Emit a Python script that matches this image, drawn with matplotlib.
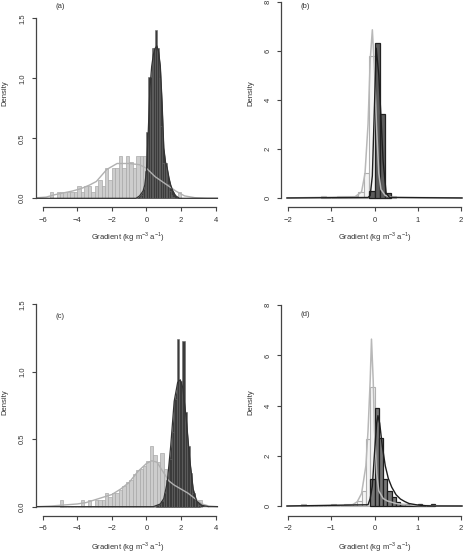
## four panel histogram + density plot (R style)
import numpy as np
import matplotlib
matplotlib.use('Agg')
from matplotlib import pyplot as plt

plt.rcParams['font.family'] = ['Liberation Sans', 'DejaVu Sans']
plt.rcParams['mathtext.fontset'] = 'custom'
plt.rcParams['mathtext.rm'] = 'Liberation Sans'

# ---- panel (a) ----
gray_a_start, gray_a_w = -5.6, 0.2
gray_a_h = [0.05, 0.0, 0.05, 0.05, 0.05, 0.05, 0.05, 0.05, 0.10, 0.05,
            0.10, 0.10, 0.05, 0.10, 0.15, 0.10, 0.25, 0.15, 0.25, 0.25,
            0.35, 0.25, 0.35, 0.30, 0.25, 0.35, 0.35, 0.35, 0.30, 0.20,
            0.15, 0.10, 0.10, 0.10, 0.05, 0.05, 0.0, 0.05]
dark_a_start, dark_a_w = -0.4, 0.1
dark_a_h = [0.01, 0.03, 0.08, 0.23, 0.55, 1.01, 1.01, 1.25, 1.25, 1.40,
            1.25, 1.0, 0.6, 0.29, 0.29, 0.29, 0.12, 0.06, 0.03, 0.01]
gray_a_dx = [-6.3, -5.8, -5.3, -4.8, -4.3, -3.8, -3.3, -2.9, -2.3, -1.7,
             -1.0, -0.4, 0.0, 0.5, 1.1, 1.7, 2.2, 2.8, 3.5, 4.1]
gray_a_dy = [0.005, 0.01, 0.03, 0.045, 0.06, 0.08, 0.11, 0.14, 0.24, 0.29,
             0.29, 0.28, 0.25, 0.18, 0.12, 0.06, 0.02, 0.005, 0.0, 0.0]
dark_a_dx = [-6.3, -0.6, -0.4, -0.2, -0.1, 0.0, 0.1, 0.2, 0.3, 0.4, 0.5,
             0.6, 0.7, 0.8, 0.9, 1.0, 1.1, 1.2, 1.3, 1.4, 1.5, 1.6, 1.7,
             1.9, 4.1]
dark_a_dy = [0.0, 0.0, 0.02, 0.06, 0.11, 0.23, 0.55, 0.92, 1.1, 1.2, 1.25,
             1.27, 1.22, 1.1, 0.8, 0.42, 0.3, 0.25, 0.17, 0.11, 0.07, 0.04,
             0.02, 0.0, 0.0]

# ---- panel (b) ----
gray_b_start, gray_b_w = -1.25, 0.125
gray_b_h = [0.08, 0.0, 0.0, 0.08, 0.08, 0.08, 0.08, 0.25, 1.0, 5.8, 2.5,
            0.3, 0.08, 0.08]
dark_b_start, dark_b_w = -0.125, 0.125
dark_b_h = [0.3, 6.33, 3.42, 0.2]
gray_b_dx = [-2.03, -0.45, -0.3, -0.22, -0.15, -0.1, -0.05, 0.0, 0.05, 0.1,
             0.15, 0.25, 0.4, 2.03]
gray_b_dy = [0.0, 0.05, 0.25, 1.0, 3.0, 5.6, 6.85, 5.2, 2.8, 1.0, 0.35,
             0.1, 0.03, 0.0]
dark_b_dx = [-2.03, -0.15, -0.1, -0.05, 0.0, 0.04, 0.1, 0.15, 0.2, 0.27,
             0.35, 2.03]
dark_b_dy = [0.0, 0.02, 0.1, 0.9, 3.8, 6.1, 5.0, 3.3, 1.5, 0.2, 0.02, 0.0]

# ---- panel (c) ----
gray_c_start, gray_c_w = -5.0, 0.2
gray_c_h = [0.05, 0.0, 0.0, 0.0, 0.0, 0.0, 0.05, 0.0, 0.05, 0.0, 0.05, 0.05,
            0.05, 0.10, 0.07, 0.10, 0.10, 0.12, 0.15, 0.18, 0.20, 0.24, 0.27,
            0.28, 0.30, 0.34, 0.45, 0.38, 0.33, 0.40, 0.28, 0.20, 0.15, 0.12,
            0.10, 0.10, 0.08, 0.07, 0.05, 0.03, 0.05]
dark_c_start, dark_c_w = 0.55, 0.15
dark_c_h = [0.01, 0.02, 0.04, 0.10, 0.20, 0.35, 0.55, 0.80, 1.24, 0.93,
            1.23, 0.70, 0.45, 0.25, 0.10, 0.04, 0.01]
gray_c_dx = [-6.3, -5.5, -5.0, -4.5, -4.0, -3.5, -3.0, -2.5, -2.0, -1.5,
             -1.0, -0.5, 0.0, 0.3, 0.6, 1.0, 1.3, 1.6, 2.0, 2.4, 2.8, 3.2,
             3.6, 4.1]
gray_c_dy = [0.0, 0.005, 0.01, 0.015, 0.02, 0.03, 0.05, 0.07, 0.09, 0.13,
             0.18, 0.26, 0.32, 0.34, 0.33, 0.25, 0.19, 0.16, 0.13, 0.10,
             0.06, 0.02, 0.005, 0.0]
dark_c_dx = [-6.3, 0.4, 0.8, 1.0, 1.2, 1.4, 1.6, 1.8, 1.95, 2.1, 2.3, 2.5,
             2.7, 2.9, 3.2, 3.6, 4.1]
dark_c_dy = [0.0, 0.0, 0.02, 0.06, 0.18, 0.45, 0.78, 0.92, 0.94, 0.88, 0.65,
             0.35, 0.13, 0.04, 0.01, 0.0, 0.0]

# ---- panel (d) ----
gray_d_start, gray_d_w = -1.7, 0.1
gray_d_h = [0.07, 0.0, 0.0, 0.0, 0.0, 0.0, 0.0, 0.07, 0.0, 0.0, 0.07, 0.07,
            0.07, 0.2, 0.6, 2.66, 4.75, 1.5, 0.3, 0.2, 0.1, 0.07, 0.07]
dark_d_start, dark_d_w = -0.1, 0.1
dark_d_h = [1.06, 3.92, 2.72, 1.06, 0.6, 0.35, 0.15, 0.1, 0.07, 0.05, 0.03,
            0.07, 0.0, 0.0, 0.07]
gray_d_dx = [-2.03, -0.6, -0.5, -0.4, -0.3, -0.2, -0.15, -0.1, -0.07, -0.03,
             0.0, 0.05, 0.1, 0.2, 0.3, 0.5, 0.7, 1.0, 2.03]
gray_d_dy = [0.0, 0.02, 0.06, 0.17, 0.5, 1.6, 3.0, 5.0, 6.65, 5.0, 3.0, 1.3,
             0.6, 0.3, 0.2, 0.1, 0.05, 0.02, 0.0]
dark_d_dx = [-2.03, -0.15, -0.1, -0.05, 0.0, 0.05, 0.08, 0.12, 0.18, 0.25,
             0.32, 0.4, 0.5, 0.6, 0.7, 0.8, 1.0, 1.2, 1.4, 2.03]
dark_d_dy = [0.0, 0.05, 0.3, 0.8, 2.1, 3.3, 3.6, 3.3, 2.4, 1.6, 1.1, 0.75,
             0.45, 0.28, 0.18, 0.1, 0.04, 0.01, 0.0, 0.0]

W, H = 465.0, 555.0
fig = plt.figure(figsize=(4.65, 5.55), dpi=100)


def make_axes(left_px, right_px, top_px, bottom_px, xlim, ylim):
    ax = fig.add_axes([left_px / W, 1 - bottom_px / H,
                       (right_px - left_px) / W, (bottom_px - top_px) / H])
    ax.set_xlim(xlim)
    ax.set_ylim(ylim)
    ax.patch.set_alpha(0)
    return ax


def style(ax, xticks, yticks, ylabels):
    for s in ['top', 'right']:
        ax.spines[s].set_visible(False)
    for s in ['left', 'bottom']:
        ax.spines[s].set_color('#444444')
        ax.spines[s].set_linewidth(0.9)
    ax.spines['bottom'].set_bounds(xticks[0], xticks[-1])
    ax.spines['left'].set_bounds(yticks[0], yticks[-1])
    ax.set_xticks(xticks)
    ax.set_xticklabels([str(t).replace('-', '\u2212') for t in xticks])
    ax.set_yticks(yticks)
    ax.set_yticklabels(ylabels, rotation=90, va='center')
    ax.tick_params(length=3, width=0.8, color='#444444', labelsize=5.5,
                   labelcolor='#333333', pad=4)


def bars(ax, start, w, h, fc, ec, lw):
    left = start + w * np.arange(len(h))
    ax.bar(left, h, width=w, align='edge', color=fc, edgecolor=ec,
           linewidth=lw)


# (a)
ax = make_axes(35.8, 222.6, 11.1, 207.3, (-6.4, 4.4), (-0.075, 1.56))
bars(ax, gray_a_start, gray_a_w, gray_a_h, '#cdcdcd', '#a9a9a9', 0.5)
ax.fill_between(dark_a_dx, dark_a_dy, color='#3b3b3b', lw=0)
bars(ax, dark_a_start, dark_a_w, dark_a_h, '#3b3b3b', '#6a6a6a', 0.4)
ax.plot(gray_a_dx, gray_a_dy, color='#b0b0b0', lw=1.0)
ax.plot(dark_a_dx, dark_a_dy, color='#333333', lw=0.9)
style(ax, [-6, -4, -2, 0, 2, 4], [0, 0.5, 1.0, 1.5],
      ['0.0', '0.5', '1.0', '1.5'])

# (b)
ax = make_axes(281.4, 467.6, -6.3, 207.3, (-2.16, 2.16), (-0.38, 8.32))
bars(ax, gray_b_start, gray_b_w, gray_b_h, '#f4f4f4', '#b0b0b0', 0.8)
bars(ax, dark_b_start, dark_b_w, dark_b_h, '#5c5c5c', '#222222', 0.9)
ax.plot(gray_b_dx, gray_b_dy, color='#b8b8b8', lw=1.1)
ax.plot(dark_b_dx, dark_b_dy, color='#1e1e1e', lw=1.0)
style(ax, [-2, -1, 0, 1, 2], [0, 2, 4, 6, 8], ['0', '2', '4', '6', '8'])

# (c)
ax = make_axes(35.8, 222.6, 296.1, 515.7, (-6.4, 4.4), (-0.067, 1.56))
bars(ax, gray_c_start, gray_c_w, gray_c_h, '#cdcdcd', '#a9a9a9', 0.5)
ax.fill_between(dark_c_dx, dark_c_dy, color='#3b3b3b', lw=0)
bars(ax, dark_c_start, dark_c_w, dark_c_h, '#3b3b3b', '#6a6a6a', 0.4)
ax.plot(gray_c_dx, gray_c_dy, color='#b0b0b0', lw=1.0)
ax.plot(dark_c_dx, dark_c_dy, color='#333333', lw=0.9)
style(ax, [-6, -4, -2, 0, 2, 4], [0, 0.5, 1.0, 1.5],
      ['0.0', '0.5', '1.0', '1.5'])

# (d)
ax = make_axes(281.4, 467.6, 297.2, 515.7, (-2.16, 2.16), (-0.386, 8.32))
bars(ax, gray_d_start, gray_d_w, gray_d_h, '#f4f4f4', '#b0b0b0', 0.8)
bars(ax, dark_d_start, dark_d_w, dark_d_h, '#767676', '#1e1e1e', 0.9)
ax.plot(gray_d_dx, gray_d_dy, color='#b8b8b8', lw=1.1)
ax.plot(dark_d_dx, dark_d_dy, color='#1e1e1e', lw=1.0)
style(ax, [-2, -1, 0, 1, 2], [0, 2, 4, 6, 8], ['0', '2', '4', '6', '8'])

# panel letters and axis titles
xlab = 'Gradient (kg m$^{-3}$ a$^{-1}$)'
for x, y, s in [(60, 7, '(a)'), (305, 7, '(b)'), (60, 316, '(c)'), (305, 315, '(d)')]:
    fig.text(x / W, 1 - y / H, s, fontsize=5.5, ha='center', va='center', color='#333333')
for x, y in [(128, 237), (375, 237), (128, 547), (375, 547)]:
    fig.text(x / W, 1 - y / H, xlab, fontsize=5.5, ha='center', va='center', color='#333333')
for x, y in [(5, 93), (251, 93), (5, 402), (251, 402)]:
    fig.text(x / W, 1 - y / H, 'Density', fontsize=5.5, ha='center', va='center',
             rotation=90, color='#333333')

plt.savefig('out.png', dpi=100)
